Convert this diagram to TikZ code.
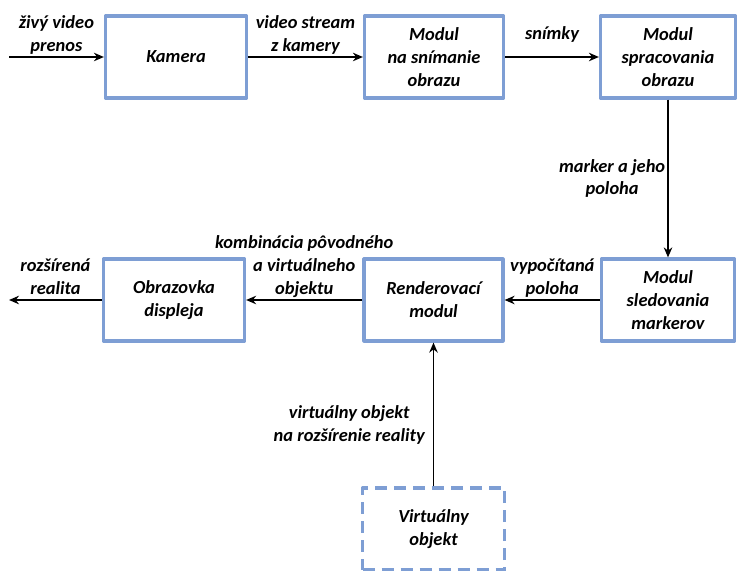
\documentclass[tikz,border=0pt]{standalone}
\usepackage{fontspec}
\setmainfont{Carlito}
\usetikzlibrary{arrows.meta}
\definecolor{blokmodra}{RGB}{126,158,212}
\begin{document}
\begin{tikzpicture}[x=1bp,y=-1bp,font=\fontsize{18.5}{23}\selectfont\bfseries\itshape, line join=round, >={Stealth[length=10bp,width=8.5bp]},
	blok/.style={draw=blokmodra,line width=3.2bp,align=center,minimum width=#1,minimum height=82bp,inner sep=0pt},
	sipka/.style={->,line width=1.6bp},
	popis/.style={align=center,inner sep=2bp}]
				\useasboundingbox (0,0) rectangle (737,571);
				% horny rad
				\node[blok=141bp] (kamera) at (176,57) {Kamera};
				\node[blok=139bp] (snimanie) at (434,57) {Modul\\na snímanie\\obrazu};
				\node[blok=135bp] (spracovanie) at (668,57) {Modul\\spracovania\\obrazu};
				% dolny rad
				\node[blok=133bp] (sledovanie) at (668,300) {Modul\\sledovania\\markerov};
				\node[blok=139bp] (render) at (433.5,300) {Renderovací\\modul};
				\node[blok=141bp] (obrazovka) at (174,300) {Obrazovka\\displeja};
				\node[blok=142bp,dash pattern=on 12bp off 7bp] (virtual) at (433.5,529) {Virtuálny\\objekt};
				\coordinate (vstup) at (9,57);
				\coordinate (vystup) at (9,300);
				% sipky
				\draw[sipka] (vstup) -- (kamera) node[midway,above,popis]{živý video\\prenos};
				\draw[sipka] (kamera) -- (snimanie) node[midway,above,popis]{video stream\\z kamery};
				\draw[sipka] (snimanie) -- (spracovanie) node[midway,above,popis,yshift=12bp]{snímky};
				\draw[sipka] (spracovanie) -- (sledovanie) node[midway,left,popis]{marker a jeho\\poloha};
				\draw[sipka] (sledovanie) -- (render) node[midway,above,popis]{vypočítaná\\poloha};
				\draw[sipka] (render) -- (obrazovka) node[midway,above,popis]{kombinácia pôvodného\\a virtuálneho\\objektu};
				\draw[sipka] (obrazovka) -- (vystup) node[midway,above,popis,yshift=3bp]{rozšírená\\realita};
				\draw[sipka] (virtual) -- (render) node[pos=0.43,left,popis,xshift=-6bp]{virtuálny objekt\\na rozšírenie reality};
			\end{tikzpicture}
\end{document}
